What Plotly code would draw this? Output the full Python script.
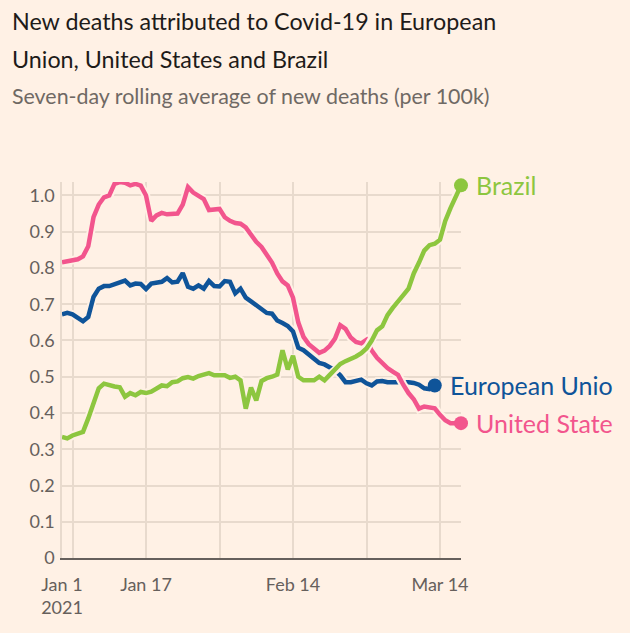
import plotly.graph_objects as go
import pandas as pd

start_date = "2021-01-01"

us_values = [0.816, 0.818, 0.822, 0.824, 0.832, 0.86, 0.94, 0.975, 0.995, 1.0,
             1.032, 1.037, 1.035, 1.028, 1.032, 1.027, 1.0, 0.93, 0.945, 0.952,
             0.948, 0.948, 0.95, 0.975, 1.023, 1.008, 1.0, 0.99, 0.96, 0.962,
             0.963, 0.94, 0.93, 0.924, 0.922, 0.912, 0.892, 0.872, 0.858, 0.838,
             0.815, 0.785, 0.763, 0.752, 0.718, 0.65, 0.61, 0.59, 0.578, 0.566,
             0.572, 0.585, 0.605, 0.642, 0.632, 0.608, 0.596, 0.592, 0.602, 0.572,
             0.552, 0.536, 0.524, 0.514, 0.505, 0.478, 0.455, 0.438, 0.412, 0.418,
             0.415, 0.413, 0.395, 0.38, 0.372, 0.372, 0.372]

eu_values = [0.672, 0.676, 0.672, 0.662, 0.653, 0.665, 0.72, 0.743, 0.75, 0.75,
             0.755, 0.763, 0.765, 0.752, 0.757, 0.756, 0.742, 0.757, 0.758, 0.762,
             0.772, 0.76, 0.762, 0.786, 0.748, 0.743, 0.752, 0.743, 0.764, 0.75,
             0.749, 0.764, 0.762, 0.73, 0.743, 0.718, 0.708, 0.698, 0.685, 0.676,
             0.674, 0.655, 0.648, 0.64, 0.625, 0.58, 0.573, 0.56, 0.548, 0.538,
             0.534, 0.527, 0.518, 0.504, 0.485, 0.485, 0.487, 0.492, 0.482, 0.476,
             0.487, 0.488, 0.485, 0.485, 0.487, 0.487, 0.485, 0.483, 0.478, 0.468,
             0.466, 0.476]

brazil_values = [0.334, 0.33, 0.338, 0.342, 0.348, 0.385, 0.43, 0.468, 0.481, 0.476,
                 0.473, 0.471, 0.445, 0.455, 0.449, 0.458, 0.455, 0.459, 0.468, 0.476,
                 0.474, 0.485, 0.487, 0.496, 0.499, 0.495, 0.502, 0.506, 0.51, 0.504,
                 0.504, 0.504, 0.497, 0.5, 0.49, 0.412, 0.47, 0.435, 0.488, 0.496,
                 0.5, 0.506, 0.573, 0.52, 0.558, 0.5, 0.49, 0.49, 0.49, 0.5,
                 0.49, 0.505, 0.52, 0.535, 0.543, 0.549, 0.556, 0.565, 0.578, 0.6,
                 0.628, 0.639, 0.67, 0.69, 0.71, 0.725, 0.743, 0.785, 0.815, 0.848,
                 0.863, 0.867, 0.878, 0.93, 0.965, 0.998, 1.028]

series_names = ["European Union", "United States", "Brazil"]
# end labels exactly as visible in the reference (cut at the right edge)
end_labels = {"European Union": "European Unio", "United States": "United State", "Brazil": "Brazil"}

x_tick_vals = ["2021-01-01", "2021-01-17", "2021-02-14", "2021-03-14"]
x_tick_text = ["Jan 1<br>2021", "Jan 17", "Feb 14", "Mar 14"]
x_minor_grid = ["2021-01-03", "2021-01-31", "2021-02-28"]
y_tick_vals = [0, 0.1, 0.2, 0.3, 0.4, 0.5, 0.6, 0.7, 0.8, 0.9, 1.0]
y_tick_text = ["0", "0.1", "0.2", "0.3", "0.4", "0.5", "0.6", "0.7", "0.8", "0.9", "1.0"]

BG = "#FFF1E5"
GRID = "#E8DACD"
AXIS = "#66605C"
TICK = "#66605C"
COLORS = {"European Union": "#0F5499", "United States": "#F2558D", "Brazil": "#8DC63F"}
FONT = "Lato"

def dates(n):
    return pd.date_range(start_date, periods=n, freq="D")

data = {"European Union": eu_values, "United States": us_values, "Brazil": brazil_values}

fig = go.Figure()
for name in series_names:
    vals = data[name]
    xs = dates(len(vals))
    # background halo
    fig.add_trace(go.Scatter(x=xs, y=vals, mode="lines",
                             line=dict(color=BG, width=8.5), hoverinfo="skip",
                             showlegend=False, cliponaxis=False))
    fig.add_trace(go.Scatter(x=xs, y=vals, mode="lines", name=name,
                             line=dict(color=COLORS[name], width=4.5),
                             showlegend=False, cliponaxis=False))
    fig.add_trace(go.Scatter(x=[xs[-1]], y=[vals[-1]], mode="markers",
                             marker=dict(color=COLORS[name], size=14),
                             showlegend=False, cliponaxis=False))
    fig.add_annotation(x=xs[-1], y=vals[-1], text=end_labels[name], xanchor="left",
                       yanchor="middle", xshift=13, showarrow=False,
                       font=dict(family=FONT, size=25, color=COLORS[name]))

fig.add_annotation(xref="paper", yref="paper", x=-0.13, y=1.427, xanchor="left",
                   yanchor="middle", showarrow=False,
                   text="New deaths attributed to Covid-19 in European",
                   font=dict(family=FONT, size=23.3, color="#1E1B19"))
fig.add_annotation(xref="paper", yref="paper", x=-0.13, y=1.326, xanchor="left",
                   yanchor="middle", showarrow=False,
                   text="Union, United States and Brazil",
                   font=dict(family=FONT, size=23.3, color="#1E1B19"))
fig.add_annotation(xref="paper", yref="paper", x=-0.13, y=1.230, xanchor="left",
                   yanchor="middle", showarrow=False,
                   text="Seven-day rolling average of new deaths (per 100k)",
                   font=dict(family=FONT, size=21.4, color="#6F6964"))

fig.update_xaxes(type="date", range=["2021-01-01", "2021-03-18"],
                 tickmode="array", tickvals=x_tick_vals, ticktext=x_tick_text,
                 showgrid=True, gridcolor=GRID, gridwidth=1.5,
                 minor=dict(tickmode="array", tickvals=x_minor_grid, showgrid=True,
                            gridcolor=GRID, gridwidth=1.5, ticks=""),
                 showline=True, linecolor=AXIS, linewidth=2, ticks="",
                 ticklabelstandoff=9, zeroline=False,
                 tickfont=dict(family=FONT, size=18, color=TICK))
fig.update_yaxes(range=[0, 1.0372], tickmode="array", tickvals=y_tick_vals,
                 ticktext=y_tick_text, showgrid=True, gridcolor=GRID, gridwidth=1.5,
                 showline=True, linecolor=GRID, linewidth=1.5, ticks="",
                 ticklabelstandoff=2, zeroline=False,
                 tickfont=dict(family=FONT, size=18, color=TICK))

fig.update_layout(width=630, height=633, paper_bgcolor=BG, plot_bgcolor=BG,
                  margin=dict(l=62, r=169, t=182, b=75), showlegend=False,
                  hovermode=False)

fig.write_html("out.html")
